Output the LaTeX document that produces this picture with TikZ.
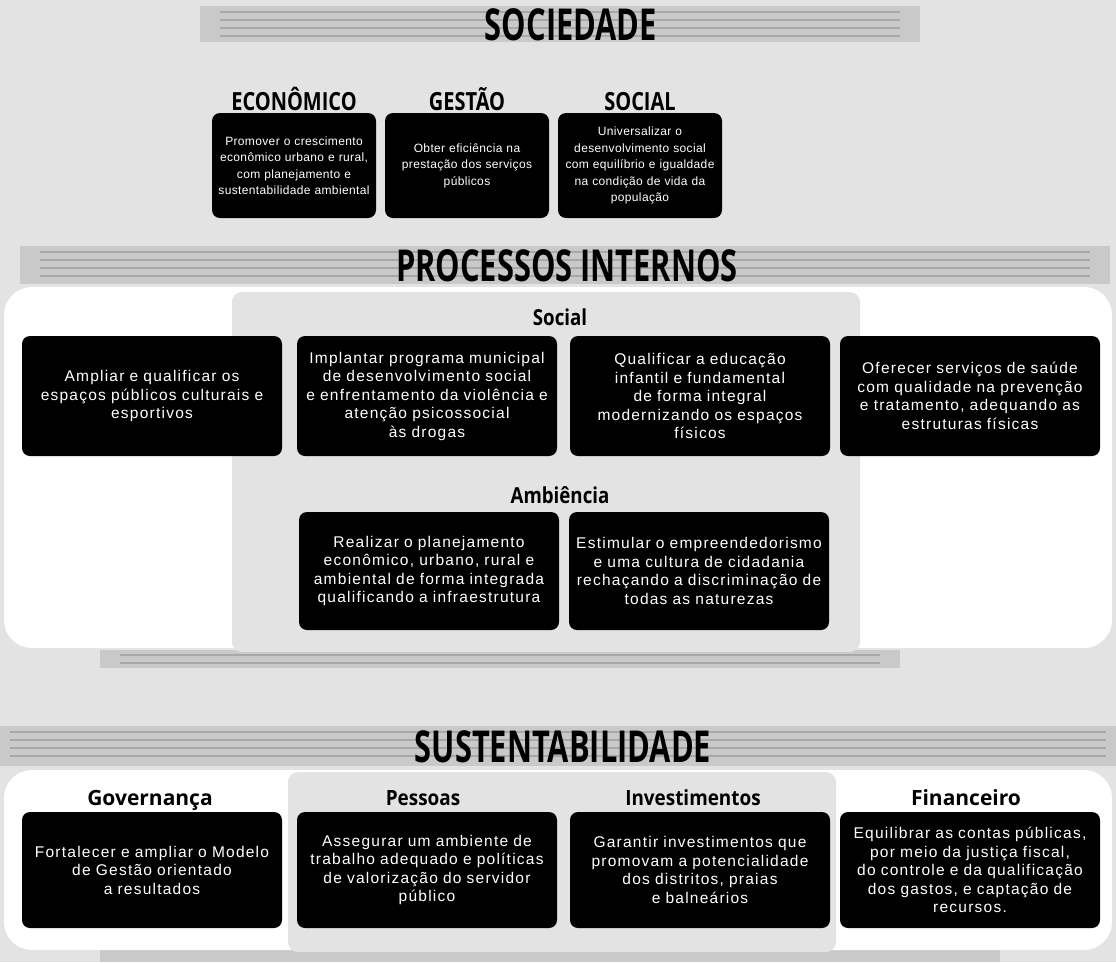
\documentclass[tikz,border=0pt]{standalone}
\usepackage{fontspec}
\usepackage{graphicx}
\setmainfont{Liberation Sans}
\newfontfamily\hfont{Open Sans}
\newfontfamily\bodyfont[LetterSpace=8]{Liberation Sans}
\newfontfamily\topbodyfont[LetterSpace=3]{Liberation Sans}
\newcommand{\condtxt}[2]{\scalebox{#1}[1]{#2}}
\tikzset{
  bigtitle/.style={font=\hfont\bfseries\fontsize{44}{48}\selectfont, inner sep=0pt, anchor=base},
  toph/.style={font=\hfont\bfseries\fontsize{25}{28}\selectfont, inner sep=0pt, anchor=base},
  subh/.style={font=\hfont\bfseries\fontsize{22}{26}\selectfont, inner sep=0pt, anchor=base},
  colh/.style={font=\hfont\bfseries\fontsize{21}{24}\selectfont, inner sep=0pt, anchor=base},
  tbox/.style={fill=black, rounded corners=8pt, text=white, align=center, inner sep=0pt,
    font=\topbodyfont\fontsize{12}{16.5}\selectfont, text width=160pt,
    minimum width=164pt, minimum height=105pt},
  obox/.style={fill=black, rounded corners=8pt, text=white, align=center, inner sep=0pt,
    font=\bodyfont\fontsize{15.5}{18.5}\selectfont, text width=252pt,
    minimum width=260pt, minimum height=#1},
  obox/.default=120pt,
  panel/.style={fill=white, rounded corners=28pt},
  grayzone/.style={fill=gray!22, rounded corners=10pt},
  band/.style={fill=gray!42},
  stripe/.style={gray!68, line width=1.2pt}
}
\begin{document}
\begin{tikzpicture}[x=1pt,y=-1pt]
\useasboundingbox (0,0) rectangle (1116,962);
% background
\fill[gray!22] (0,0) rectangle (1116,962);
% title bands
\fill[band] (200,6) rectangle (920,42);
\foreach \yy in {12,20,28,36} \draw[stripe] (220,\yy) -- (900,\yy);
\fill[band] (20,246) rectangle (1110,284);
\foreach \yy in {252,260,268,276} \draw[stripe] (40,\yy) -- (1090,\yy);
\fill[band] (100,650) rectangle (900,668);
\foreach \yy in {655,663} \draw[stripe] (120,\yy) -- (880,\yy);
\fill[band] (0,726) rectangle (1116,766);
\foreach \yy in {732,740,748,756} \draw[stripe] (10,\yy) -- (1106,\yy);
\fill[band] (100,950) rectangle (1000,962);
% panels
\fill[panel] (4,287) rectangle (1112,648);
\fill[grayzone] (232,292) rectangle (860,652);
\fill[panel] (4,770) rectangle (1112,950);
\fill[grayzone] (288,772) rectangle (836,952);

% SOCIEDADE
\node[bigtitle] (tsoc) at (571,40) {\condtxt{0.7}{SOCIEDADE}};
\node[toph] (hecon) at (294,110) {\condtxt{0.8}{ECONÔMICO}};
\node[toph] (hgest) at (467,110) {\condtxt{0.8}{GESTÃO}};
\node[toph] (hsoc) at (640,110) {\condtxt{0.8}{SOCIAL}};
\node[tbox] (econ) at (294,165.5) {Promover o crescimento\\econômico urbano e rural,\\com planejamento e\\sustentabilidade ambiental};
\node[tbox] (gest) at (467,165.5) {Obter eficiência na\\prestação dos serviços\\públicos};
\node[tbox] (soc) at (640,165.5) {Universalizar o\\desenvolvimento social\\com equilíbrio e igualdade\\na condição de vida da\\população};

% PROCESSOS INTERNOS
\node[bigtitle] (tproc) at (567,281) {\condtxt{0.7}{PROCESSOS INTERNOS}};
\node[subh] (hsocial) at (560,325) {\condtxt{0.85}{Social}};
\node[obox] (p1) at (152,396) {Ampliar e qualificar os\\espaços públicos culturais e\\esportivos};
\node[obox] (p2) at (427,396) {Implantar programa municipal\\de desenvolvimento social\\e enfrentamento da violência e\\atenção psicossocial\\às drogas};
\node[obox] (p3) at (700,396) {Qualificar a educação\\infantil e fundamental\\de forma integral\\modernizando os espaços\\físicos};
\node[obox] (p4) at (970,396) {Oferecer serviços de saúde\\com qualidade na prevenção\\e tratamento, adequando as\\estruturas físicas};
\node[subh] (hamb) at (560,503) {\condtxt{0.85}{Ambiência}};
\node[obox=118pt] (a1) at (429,571) {Realizar o planejamento\\econômico, urbano, rural e\\ambiental de forma integrada\\qualificando a infraestrutura};
\node[obox=118pt] (a2) at (699,571) {Estimular o empreendedorismo\\e uma cultura de cidadania\\rechaçando a discriminação de\\todas as naturezas};

% SUSTENTABILIDADE
\node[bigtitle] (tsust) at (563,762) {\condtxt{0.7}{SUSTENTABILIDADE}};
\node[colh] (hgov) at (150,805) {Governança};
\node[colh] (hpes) at (423,805) {\condtxt{0.9}{Pessoas}};
\node[colh] (hinv) at (693,805) {\condtxt{0.9}{Investimentos}};
\node[colh] (hfin) at (966,805) {Financeiro};
\node[obox=116pt] (s1) at (152,870) {Fortalecer e ampliar o Modelo\\de Gestão orientado\\a resultados};
\node[obox=116pt] (s2) at (427,870) {Assegurar um ambiente de\\trabalho adequado e políticas\\de valorização do servidor\\público};
\node[obox=116pt] (s3) at (700,870) {Garantir investimentos que\\promovam a potencialidade\\dos distritos, praias\\e balneários};
\node[obox=116pt] (s4) at (970,870) {Equilibrar as contas públicas,\\por meio da justiça fiscal,\\do controle e da qualificação\\dos gastos, e captação de\\recursos.};
\end{tikzpicture}
\end{document}
